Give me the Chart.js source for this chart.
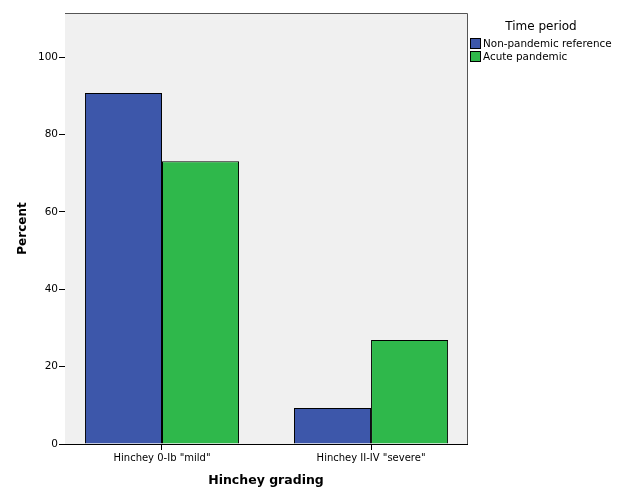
<!DOCTYPE html>
<html>
<head>
<meta charset="utf-8">
<script src="https://cdn.jsdelivr.net/npm/chart.js@4.4.0/dist/chart.umd.min.js"></script>
<style>
  html, body { margin: 0; padding: 0; background: #ffffff; }
  #wrap { width: 626px; height: 488px; }
</style>
</head>
<body>
<div id="wrap"><canvas id="chart" width="626" height="488"></canvas></div>
<script>
// categories on the x axis
const categories = ['Hinchey 0-Ib "mild"', 'Hinchey II-IV "severe"'];
// series names (legend)
const seriesNames = ["Non-pandemic reference", "Acute pandemic"];
// percent values
const nonPandemic = [90.7, 9.3];
const acutePandemic = [73.1, 26.9];
// y tick labels
const yTicks = [0, 20, 40, 60, 80, 100];

const barColors = ["#3d57aa", "#2fb84b"];
const FONT = "DejaVu Sans";

//background of the plot area and its gray frame
const plotBox = {
  id: "plotBox",
  beforeDatasetsDraw(chart) {
    const { ctx, chartArea: a } = chart;
    ctx.save();
    ctx.fillStyle = "#f0f0f0";
    ctx.fillRect(a.left, a.top, a.right - a.left, a.bottom - a.top);
    ctx.restore();
  },
  afterDraw(chart) {
    const { ctx, chartArea: a } = chart;
    ctx.save();
    ctx.strokeStyle = "#555555";
    ctx.lineWidth = 1;
    ctx.beginPath();
    ctx.moveTo(a.left, a.top + 0.5);
    ctx.lineTo(a.right + 0.5, a.top + 0.5);
    ctx.lineTo(a.right + 0.5, a.bottom);
    ctx.stroke();
    ctx.restore();
  },
};

//legend drawn by hand on the right side
const sideLegend = {
  id: "sideLegend",
  afterDraw(chart) {
    const { ctx } = chart;
    ctx.save();
    ctx.fillStyle = "#000";
    ctx.font = "12px " + FONT;
    ctx.textAlign = "center";
    ctx.textBaseline = "middle";
    ctx.fillText("Time period", 541, 27);
    ctx.font = "10.4px " + FONT;
    ctx.textAlign = "left";
    chart.data.datasets.forEach((ds, i) => {
      const y = 44 + i * 13;
      ctx.fillStyle = ds.backgroundColor;
      ctx.fillRect(470.5, y - 5.5, 10, 10);
      ctx.strokeStyle = "#000";
      ctx.lineWidth = 1;
      ctx.strokeRect(470.5, y - 5.5, 10, 10);
      ctx.fillStyle = "#000";
      ctx.fillText(ds.label, 483, y);
    });
    ctx.restore();
  },
};

const toPoints = (vals) => vals.map((v, i) => ({ x: i, y: v }));

new Chart(document.getElementById("chart"), {
  type: "bar",
  plugins: [plotBox, sideLegend],
  data: {
    datasets: [
      {
        label: seriesNames[0],
        data: toPoints(nonPandemic),
        backgroundColor: barColors[0],
        borderColor: "#000",
        borderWidth: 1,
      },
      {
        label: seriesNames[1],
        data: toPoints(acutePandemic),
        backgroundColor: barColors[1],
        borderColor: "#000",
        borderWidth: 1,
      },
    ],
  },
  options: {
    responsive: false,
    animation: false,
    layout: { padding: { top: 13, right: 159, left: 0, bottom: 0 } },
    datasets: { bar: { categoryPercentage: 0.737, barPercentage: 1.0 } },
    plugins: {
      legend: { display: false },
      tooltip: { enabled: false },
    },
    scales: {
      x: {
        type: "linear",
        min: -0.464,
        max: 1.459,
        offset: false,
        afterBuildTicks: (scale) => {
          scale.ticks = categories.map((_, i) => ({ value: i }));
        },
        afterFit: (scale) => { scale.height = 44; },
        grid: { drawOnChartArea: false, drawTicks: true, tickLength: 6, tickColor: "#000", offset: false },
        border: { display: true, color: "#000", width: 1 },
        ticks: {
          color: "#000",
          font: { family: FONT, size: 10 },
          padding: 2,
          maxRotation: 0,
          callback: (v) => categories[v],
        },
        title: {
          display: true,
          text: "Hinchey grading",
          color: "#000",
          font: { family: FONT, size: 12.5, weight: "bold" },
          padding: { top: 5, bottom: 0 },
        },
      },
      y: {
        min: 0,
        max: 111.4,
        afterBuildTicks: (scale) => {
          scale.ticks = yTicks.map((v) => ({ value: v }));
        },
        afterFit: (scale) => { scale.width = 65; },
        grid: { drawOnChartArea: false, drawTicks: true, tickLength: 6, tickColor: "#000" },
        border: { display: true, color: "#000", width: 1 },
        ticks: {
          color: "#000",
          font: { family: FONT, size: 10.5 },
          padding: 1,
        },
        title: {
          display: true,
          text: "Percent",
          color: "#000",
          font: { family: FONT, size: 12, weight: "bold" },
          padding: { top: 16, bottom: 8 },
        },
      },
    },
  },
});
</script>
</body>
</html>
